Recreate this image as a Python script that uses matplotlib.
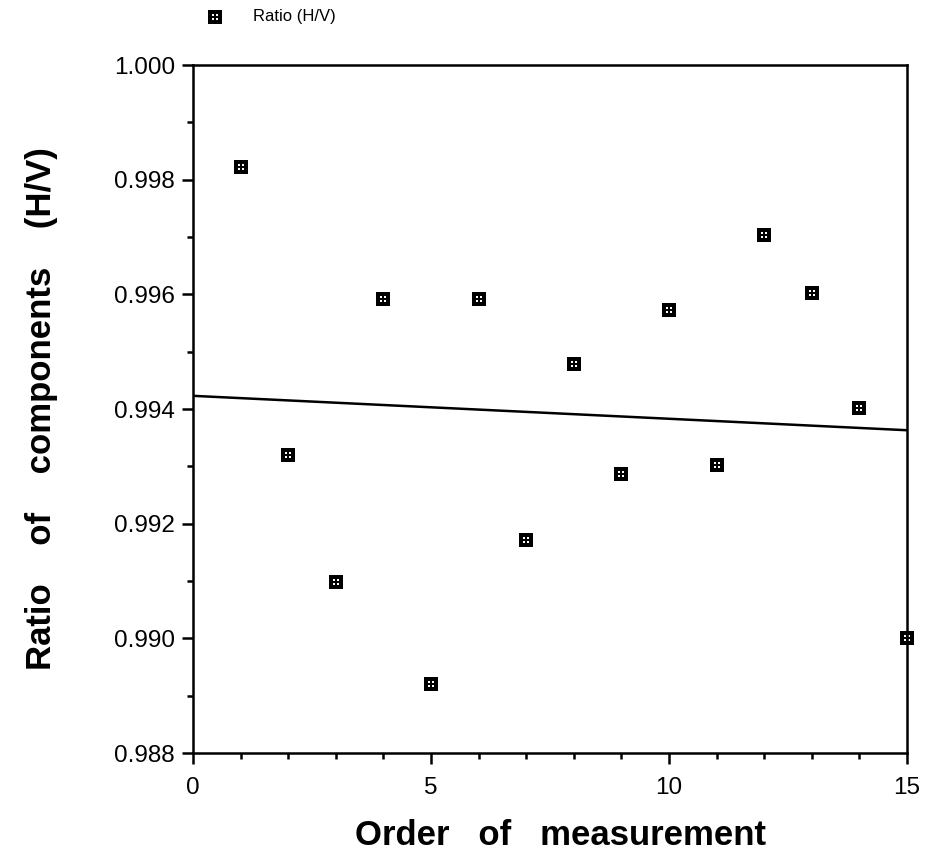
import matplotlib.pyplot as plt
from matplotlib.path import Path
from matplotlib.lines import Line2D
from matplotlib.ticker import MultipleLocator, FormatStrFormatter

plt.rcParams['font.family'] = ['Liberation Sans', 'DejaVu Sans']

# values
order = [1, 2, 3, 4, 5, 6, 7, 8, 9, 10, 11, 12, 13, 14, 15]
ratio = [0.99822, 0.99320, 0.99098, 0.99592, 0.98920, 0.99592, 0.99172, 0.99478,
         0.99286, 0.99572, 0.99302, 0.99704, 0.99602, 0.99402, 0.99000]
fit_x = [0, 15]
fit_y = [0.99423, 0.99363]


def hole_square():
    # black square with four small white holes (2x2)
    def sq(x0, y0, x1, y1, ccw=True):
        pts = [(x0, y0), (x1, y0), (x1, y1), (x0, y1)]
        if not ccw:
            pts = pts[::-1]
        return pts + [(x0, y0)]
    verts, codes = [], []
    parts = [sq(-0.5, -0.5, 0.5, 0.5)]
    for cx in (-0.16, 0.16):
        for cy in (-0.16, 0.16):
            parts.append(sq(cx - 0.07, cy - 0.07, cx + 0.07, cy + 0.07, ccw=False))
    for p in parts:
        verts += p
        codes += [Path.MOVETO] + [Path.LINETO] * 3 + [Path.CLOSEPOLY]
    return Path(verts, codes)


marker = hole_square()

fig = plt.figure(figsize=(9.26, 8.6), dpi=100)
ax = fig.add_axes([0.2084, 0.1244, 0.7711, 0.8000])

ax.plot(order, ratio, linestyle='none', marker=marker, markersize=10,
        color='black', markeredgewidth=0, clip_on=False, zorder=3)
ax.plot(fit_x, fit_y, color='black', linewidth=1.8)

ax.set_xlim(0, 15)
ax.set_ylim(0.988, 1.000)
ax.xaxis.set_major_locator(MultipleLocator(5))
ax.xaxis.set_minor_locator(MultipleLocator(1))
ax.yaxis.set_major_locator(MultipleLocator(0.002))
ax.yaxis.set_minor_locator(MultipleLocator(0.001))
ax.yaxis.set_major_formatter(FormatStrFormatter('%.3f'))

for s in ax.spines.values():
    s.set_linewidth(1.8)
ax.tick_params(which='major', direction='out', length=8, width=1.8,
               labelsize=17.5, pad=5)
ax.tick_params(axis='x', which='major', pad=9)
ax.tick_params(which='minor', direction='out', length=4, width=1.8)

ax.set_xlabel('Order   of   measurement', fontsize=25, fontweight='bold',
              labelpad=15)
ax.xaxis.label.set_x(0.515)
ax.set_ylabel('Ratio    of    components    (H/V)', fontsize=25, fontweight='bold',
              labelpad=40)

# legend drawn above the axes
fig.add_artist(Line2D([215 / 926], [1 - 17 / 860], transform=fig.transFigure,
                      marker=marker, markersize=10, color='black',
                      markeredgewidth=0, linestyle='none'))
fig.text(253 / 926, 1 - 17 / 860, 'Ratio (H/V)', fontsize=12, va='center',
         ha='left')

fig.savefig('out.png', dpi=100)
